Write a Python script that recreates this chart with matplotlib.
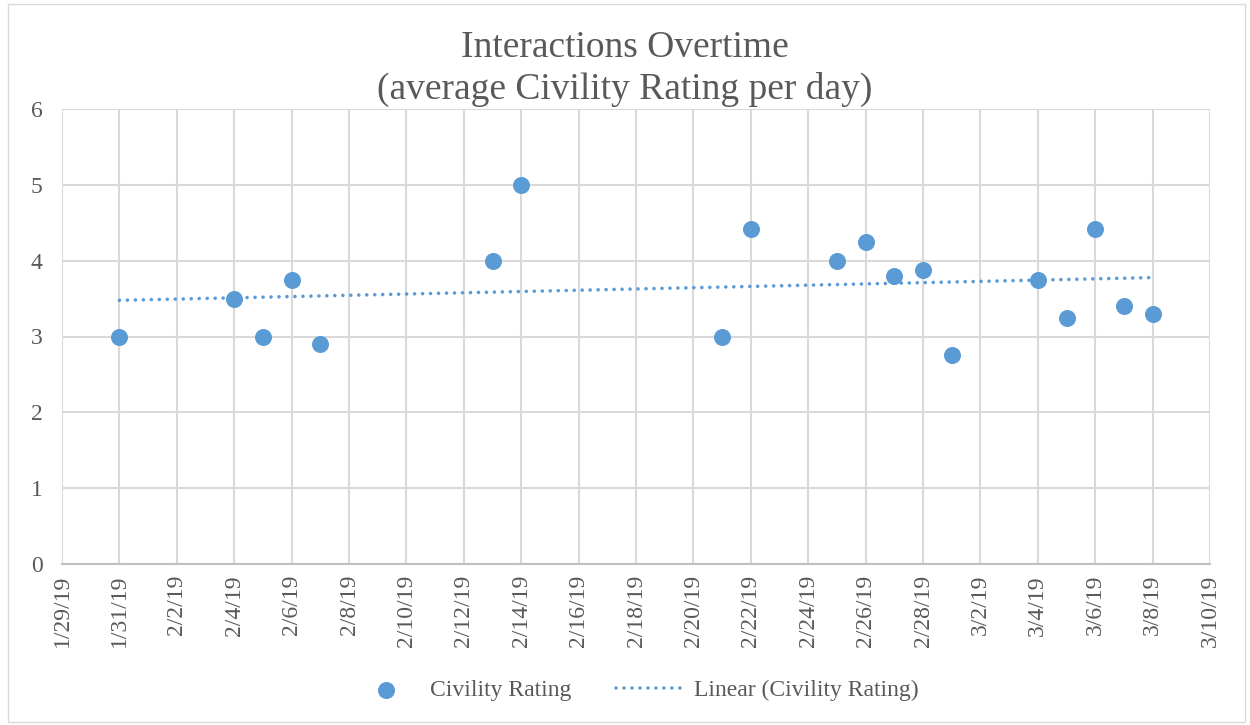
import matplotlib
matplotlib.use("Agg")
import matplotlib.pyplot as plt
import matplotlib.dates as mdates
import numpy as np
import datetime as dt
from matplotlib.patches import Rectangle

dates = ["2019-01-31", "2019-02-04", "2019-02-05", "2019-02-06", "2019-02-07",
         "2019-02-13", "2019-02-14", "2019-02-21", "2019-02-22", "2019-02-25",
         "2019-02-26", "2019-02-27", "2019-02-28", "2019-03-01", "2019-03-04",
         "2019-03-05", "2019-03-06", "2019-03-07", "2019-03-08"]
ratings = [3.0, 3.5, 3.0, 3.75, 2.9, 4.0, 5.0, 3.0, 4.42, 4.0,
           4.25, 3.8, 3.88, 2.75, 3.75, 3.25, 4.42, 3.4, 3.3]
title = "Interactions Overtime\n(average Civility Rating per day)"
series_name = "Civility Rating"
trend_name = "Linear (Civility Rating)"

plt.rcParams['font.family'] = ['Liberation Serif', 'DejaVu Serif']
text_color = "#595959"
blue = "#5B9BD5"

x = [dt.datetime.strptime(d, "%Y-%m-%d") for d in dates]
xn = mdates.date2num(x)

fig = plt.figure(figsize=(12.5, 7.25), dpi=100)
fig.patches.append(Rectangle((0.006, 0.004), 0.99, 0.99, transform=fig.transFigure,
                             fill=False, edgecolor="#D9D9D9", linewidth=1))
ax = fig.add_axes([62/1250, 1-564/725, (1210-62)/1250, (564-109)/725])

ax.scatter(x, ratings, s=150, color=blue, zorder=3, label=series_name, linewidths=0)
coef = np.polyfit(xn, ratings, 1)
tx = np.array([xn.min(), xn.max()])
ax.plot(mdates.num2date(tx), np.polyval(coef, tx), linestyle=(0, (0.01, 2.2)), color=blue,
        linewidth=2.6, zorder=2, label=trend_name, dash_capstyle='round')

ax.set_xlim(dt.datetime(2019, 1, 29), dt.datetime(2019, 3, 10))
ax.set_ylim(0, 6)
ticks = [dt.datetime(2019, 1, 29) + dt.timedelta(days=2*i) for i in range(21)]
ax.set_xticks(ticks)
ax.set_xticklabels([f"{t.month}/{t.day}/{t.strftime('%y')}" for t in ticks], rotation=90)
ax.set_yticks(range(7))
ax.grid(True, color="#D9D9D9", linewidth=1.5, zorder=0)
ax.set_axisbelow(True)
for s in ["top", "right", "left"]:
    ax.spines[s].set_visible(False)
ax.spines["bottom"].set_color("#BFBFBF")
ax.spines["bottom"].set_linewidth(1.5)
ax.tick_params(axis="both", length=0, labelsize=17, colors=text_color, pad=8)
ax.tick_params(axis="y", pad=14)

fig.text(0.5, 0.905, title, ha="center", va="center", fontsize=27, color=text_color,
         linespacing=1.25)

leg = fig.legend(loc="center", bbox_to_anchor=(0.508, 0.048), ncol=2, frameon=False,
                 fontsize=17, labelcolor=text_color, handlelength=2.9, columnspacing=1.9,
                 handletextpad=0.4)
plt.setp(leg.get_texts(), color=text_color)

fig.savefig("out.png", dpi=100)
